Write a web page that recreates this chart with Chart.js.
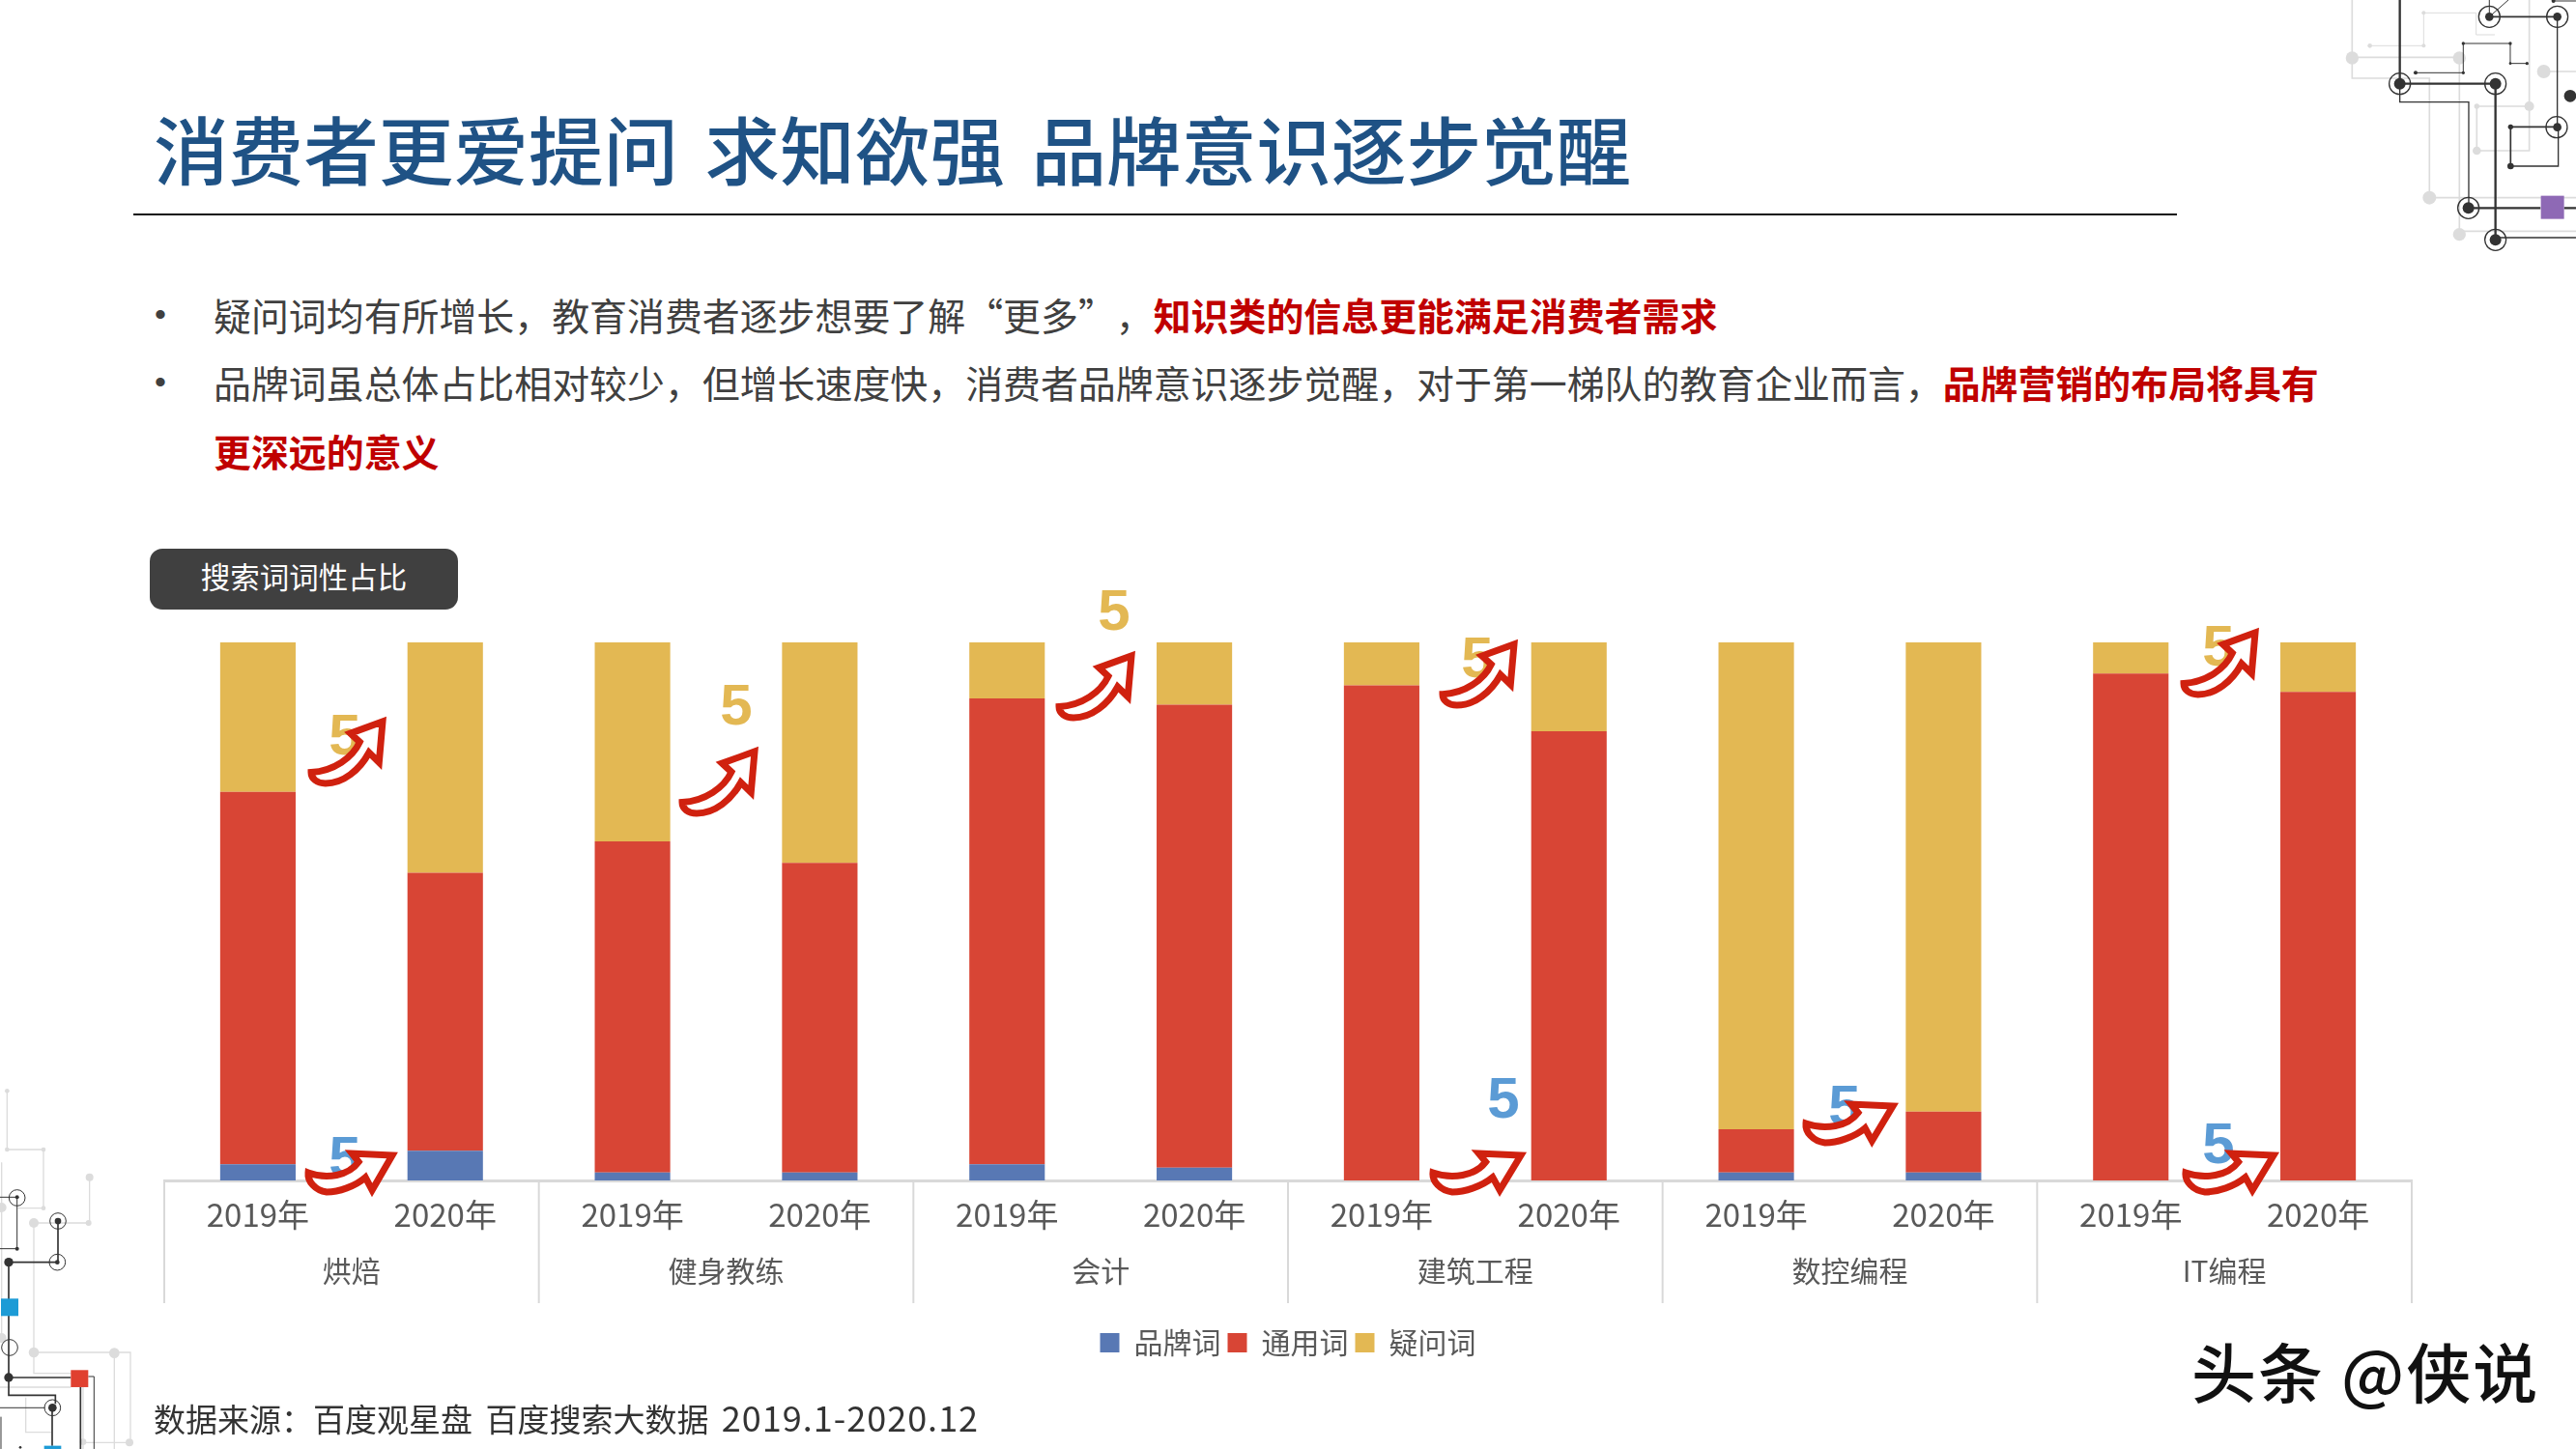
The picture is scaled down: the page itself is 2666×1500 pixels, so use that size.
<!DOCTYPE html>
<html lang="zh-CN">
<head>
<meta charset="utf-8">
<title>搜索词词性占比</title>
<script src="https://cdn.jsdelivr.net/npm/chart.js@4"></script>
<style>
  html, body { margin: 0; padding: 0; background: #fff; }
  body { position: relative; width: 2666px; height: 1500px; overflow: hidden; font-family: "Noto Sans CJK SC", sans-serif; }
  .abs { position: absolute; white-space: nowrap; }
  #title { left: 159px; top: 96px; font-size: 77.6px; line-height: 112px; word-spacing: 10px; color: #1f5285; font-weight: 500; }
  #rule { left: 138px; top: 221px; width: 2115px; height: 2px; background: #111; }
  .line { left: 221px; font-size: 38.92px; line-height: 70px; color: #404040; }
  .line b { color: #c00000; font-weight: 700; }
  .line i { font-style: normal; display: inline-block; width: 1em; }
  .line i.open { text-align: right; }
  .dot { left: 160px; font-family: "Liberation Sans", sans-serif; font-size: 34px; line-height: 70px; color: #404040; }
  #badge { left: 155px; top: 568px; width: 319px; height: 63px; line-height: 57px; border-radius: 13px; background: #404040; color: #fff; font-size: 30.5px; text-align: center; }
  #source { left: 159px; top: 1443px; font-size: 33px; line-height: 46px; word-spacing: 6px; color: #333; }
  #source span { font-size: 36px; letter-spacing: 1px; }
  #mark { left: 2268px; top: 1373px; font-size: 67px; line-height: 90px; letter-spacing: 2px; color: #111; font-weight: 500; }
  #dailyChart { position: absolute; left: 0; top: 640px; }
  svg { position: absolute; left: 0; top: 0; }
</style>
</head>
<body>

<svg width="2666" height="1500" viewBox="0 0 2666 1500">
  <!-- top right circuit -->
  <g transform="translate(2366,0) scale(0.3333)" fill="none">
    <g stroke="#dcdcdc" stroke-width="5">
      <path d="M205 0V178H538M205 180V243H445V612M445 614H900M538 180V718H900" />
      <path stroke-width="3" d="M260 142H427V40H590V108H648" />
      <path d="M755 0V468H592V330H755M800 222H900" />
    </g>
    <g fill="#dcdcdc">
      <circle cx="205" cy="180" r="20"/><circle cx="538" cy="180" r="20"/><circle cx="445" cy="614" r="21"/>
      <circle cx="538" cy="728" r="20"/><circle cx="260" cy="142" r="7"/><circle cx="427" cy="142" r="6"/>
      <circle cx="427" cy="40" r="6"/><circle cx="755" cy="330" r="15"/><circle cx="592" cy="468" r="13"/>
      <circle cx="592" cy="330" r="8"/><circle cx="800" cy="222" r="21"/>
    </g>
    <g stroke="#333">
      <path stroke-width="7" d="M353 0V260H650V745M566 646H790M863 646H900" />
      <path stroke-width="4" d="M353 260V317H567V645M650 738H900M842 52V395M697 516H845V395" />
      <path stroke-width="5" d="M631 52H842M697 516V394H842" />
      <path stroke-width="3" d="M631 0V52L690 0M402 226H550V135H696V197H748M830 3H900" />
      <circle cx="353" cy="260" r="33" stroke-width="4"/><circle cx="650" cy="260" r="33" stroke-width="4"/>
      <circle cx="566" cy="646" r="33" stroke-width="4"/><circle cx="650" cy="745" r="33" stroke-width="4"/>
      <circle cx="631" cy="52" r="33" stroke-width="4"/><circle cx="842" cy="52" r="33" stroke-width="4"/>
      <circle cx="840" cy="395" r="33" stroke-width="4"/>
    </g>
    <g fill="#333">
      <circle cx="353" cy="260" r="18"/><circle cx="650" cy="260" r="18"/><circle cx="566" cy="646" r="18"/>
      <circle cx="650" cy="745" r="18"/><circle cx="631" cy="52" r="13"/><circle cx="842" cy="52" r="13"/>
      <circle cx="842" cy="395" r="13"/><circle cx="697" cy="394" r="8"/><circle cx="697" cy="516" r="10"/>
      <circle cx="882" cy="298" r="19"/><circle cx="830" cy="3" r="6"/><circle cx="550" cy="135" r="5"/>
      <circle cx="696" cy="135" r="5"/><circle cx="550" cy="226" r="5"/><circle cx="402" cy="226" r="6"/>
      <circle cx="696" cy="197" r="4"/><circle cx="748" cy="197" r="5"/>
    </g>
    <rect x="791" y="608" width="72" height="72" fill="#8e69b5"/>
  </g>
  <!-- bottom left circuit -->
  <g transform="translate(0,1100) scale(0.3333)" fill="none">
    <g stroke="#dcdcdc" stroke-width="4">
      <path d="M22 88V270H135V452H55M278 356V498H105V900H405V1180H258M355 902V1200M105 900V965H258V1200" />
      <path d="M5 310V860M0 1008H220M80 1040V1148H160" />
    </g>
    <g fill="#dcdcdc">
      <circle cx="22" cy="88" r="7"/><circle cx="22" cy="270" r="7"/><circle cx="135" cy="270" r="7"/>
      <circle cx="135" cy="452" r="7"/><circle cx="278" cy="356" r="12"/><circle cx="275" cy="498" r="9"/>
      <circle cx="105" cy="498" r="15"/><circle cx="105" cy="900" r="16"/><circle cx="355" cy="902" r="16"/>
      <circle cx="402" cy="1180" r="12"/><circle cx="258" cy="1178" r="10"/><circle cx="5" cy="450" r="15"/>
      <circle cx="5" cy="855" r="15"/>
    </g>
    <g stroke="#333">
      <path stroke-width="3" d="M0 418H52M53 420V578H0M0 1072H140M274 975H292V1200M3 1100V1200" />
      <path stroke-width="5" d="M180 492V620H27V978H220M162 1072V1190M250 1008V1200M27 978V1033H172V1060" />
      <circle cx="53" cy="420" r="25" stroke-width="3"/><circle cx="180" cy="492" r="25" stroke-width="3"/>
      <circle cx="178" cy="620" r="25" stroke-width="3"/><circle cx="30" cy="885" r="25" stroke-width="3"/>
      <circle cx="163" cy="1072" r="25" stroke-width="3"/>
    </g>
    <g fill="#333">
      <circle cx="53" cy="418" r="6"/><circle cx="53" cy="578" r="6"/><circle cx="180" cy="492" r="10"/>
      <circle cx="178" cy="620" r="7"/><circle cx="27" cy="620" r="14"/><circle cx="27" cy="978" r="14"/>
      <circle cx="163" cy="1072" r="13"/><circle cx="63" cy="1195" r="4"/>
    </g>
    <rect x="3" y="733" width="54" height="54" fill="#1c9bd6"/>
    <rect x="220" y="955" width="54" height="53" fill="#e0402f"/>
    <rect x="137" y="1190" width="53" height="10" fill="#1c9bd6"/>
  </g>
</svg>

<div id="title" class="abs">消费者更爱提问 求知欲强 品牌意识逐步觉醒</div>
<div id="rule" class="abs"></div>

<div class="abs dot" style="top:290px">•</div>
<div class="abs line" style="top:290px">疑问词均有所增长，教育消费者逐步想要了解<i class="open">“</i>更多<i>”</i>，<b>知识类的信息更能满足消费者需求</b></div>
<div class="abs dot" style="top:360px">•</div>
<div class="abs line" style="top:360px">品牌词虽总体占比相对较少，但增长速度快，消费者品牌意识逐步觉醒，对于第一梯队的教育企业而言，<b>品牌营销的布局将具有</b></div>
<div class="abs line" style="top:431px"><b>更深远的意义</b></div>

<div id="badge" class="abs">搜索词词性占比</div>

<canvas id="dailyChart" width="2666" height="775"></canvas>

<svg id="notes" width="2666" height="1500" viewBox="0 0 2666 1500"></svg>

<div id="source" class="abs">数据来源：百度观星盘 百度搜索大数据 <span>2019.1-2020.12</span></div>
<div id="mark" class="abs">头条 @侠说</div>

<script>
const groups = ["烘焙", "健身教练", "会计", "建筑工程", "数控编程", "IT编程"];
const years = ["2019年", "2020年"];
const legendNames = ["品牌词", "通用词", "疑问词"];

// share of search terms in %
const brandShare = [3, 5.5, 1.5, 1.5, 3, 2.4, 0, 0, 1.5, 1.5, 0, 0];
const generalShare = [69.2, 51.7, 61.5, 57.5, 86.6, 86, 92, 83.5, 8, 11.3, 94.2, 90.8];
const questionShare = [27.8, 42.8, 37, 41, 10.4, 11.6, 8, 16.5, 90.5, 87.2, 5.8, 9.2];

const labels = groups.flatMap(() => years);
const fontFamily = '"Noto Sans CJK SC", sans-serif';
const axisColor = "#d9d9d9";

// separators between the groups, they run down through both label rows
const groupLines = {
  id: "groupLines",
  afterDraw(chart) {
    const { ctx } = chart;
    const x = chart.scales.x;
    const lineBottom = chart.scales.x2.top + 51;
    ctx.save();
    ctx.strokeStyle = axisColor;
    ctx.lineWidth = 2;
    for (let i = 0; i <= groups.length; i++) {
      const px = x.getPixelForValue(i * years.length - 0.5);
      ctx.beginPath();
      ctx.moveTo(px, x.top);
      ctx.lineTo(px, lineBottom);
      ctx.stroke();
    }
    ctx.restore();
  }
};

new Chart(document.getElementById("dailyChart"), {
  type: "bar",
  data: {
    labels: labels,
    datasets: [
      { label: legendNames[0], data: brandShare, backgroundColor: "#5878b4" },
      { label: legendNames[1], data: generalShare, backgroundColor: "#d84535" },
      { label: legendNames[2], data: questionShare, backgroundColor: "#e3b853" }
    ]
  },
  options: {
    animation: false,
    responsive: false,
    layout: { padding: { left: 170, right: 170, top: 25 } },
    datasets: { bar: { barPercentage: 0.403, categoryPercentage: 1 } },
    plugins: {
      tooltip: { enabled: false },
      legend: {
        position: "bottom",
        labels: { boxWidth: 20, boxHeight: 20, padding: 7, color: "#595959", font: { family: fontFamily, size: 30 } }
      }
    },
    scales: {
      y: { stacked: true, display: false, min: 0, max: 100 },
      x: {
        stacked: true,
        grid: { display: false, drawTicks: false },
        border: { color: axisColor, width: 3 },
        ticks: { autoSkip: false, maxRotation: 0, padding: 16, color: "#595959", font: { family: fontFamily, size: 33 } },
        afterFit(scale) { scale.height = 76; }
      },
      x2: {
        type: "category",
        labels: groups,
        position: "bottom",
        offset: true,
        grid: { display: false, drawTicks: false },
        border: { display: false },
        ticks: { autoSkip: false, maxRotation: 0, padding: 0, color: "#595959", font: { family: fontFamily, size: 30 } },
        afterFit(scale) { scale.height = 70; }
      }
    }
  },
  plugins: [groupLines]
});

// hand drawn growth arrows and the "5" notes placed over the chart
const upArrow = "M0 82C32 80 58 58 68 33L55 19L100 0L95 66L81 50C68 78 45 100 20 100C8 100 0 92 0 82Z";
const flatArrow = "M0 50C22 68 48 58 60 22L52 0L100 5L76 95L68 62C56 85 36 100 22 100C8 96 -1 72 0 50Z";
const upBoxes = [[322, 747, 74, 64], [706, 778, 75, 64], [1096, 679, 75, 64], [1493, 667, 74, 63], [2260, 655, 74, 64]];
const flatBoxes = [[319, 1194, 87, 40], [1483, 1194, 91, 40], [1869, 1143, 90, 40], [2262, 1194, 91, 40]];
const yellowFives = [[357, 760], [762, 729], [1153, 631], [1529, 680], [2296, 668]];
const blueFives = [[357, 1197], [1556, 1136], [1909, 1144], [2296, 1183]];

let notes = "";
const addFive = (p, color) => {
  notes += `<text x="${p[0]}" y="${p[1]}" text-anchor="middle" dominant-baseline="central" font-family="Liberation Sans" font-weight="700" font-size="60" fill="${color}">5</text>`;
};
const addArrow = (b, d) => {
  notes += `<path d="${d}" transform="translate(${b[0]},${b[1]}) scale(${b[2] / 100},${b[3] / 100})" fill="#fff" stroke="#d0210f" stroke-width="7" vector-effect="non-scaling-stroke" stroke-linejoin="miter"/>`;
};
yellowFives.forEach(p => addFive(p, "#e3b853"));
blueFives.forEach(p => addFive(p, "#5b9bd5"));
upBoxes.forEach(b => addArrow(b, upArrow));
flatBoxes.forEach(b => addArrow(b, flatArrow));
document.getElementById("notes").innerHTML = notes;
</script>
</body>
</html>
